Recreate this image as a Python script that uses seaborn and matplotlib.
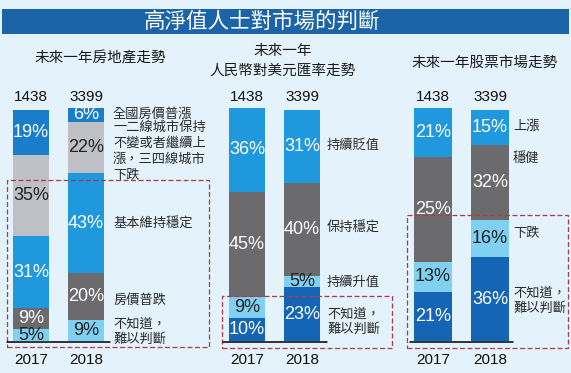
import matplotlib
matplotlib.use("Agg")
import matplotlib.pyplot as plt
from matplotlib.patches import Rectangle
from matplotlib.lines import Line2D
import seaborn as sns

sns.set_style("white")
plt.rcParams['font.family'] = ['Noto Sans CJK TC', 'DejaVu Sans']

# data (segments listed bottom -> top)
years = ["2017", "2018"]
counts = ["1438", "3399"]

house_cats = ["不知道，\n難以判斷", "房價普跌", "基本維持穩定",
              "一二線城市保持\n不變或者繼續上\n漲，三四線城市\n下跌", "全國房價普漲"]
house_2017 = [5, 9, 31, 35, 19]
house_2018 = [9, 20, 43, 22, 6]

rmb_cats = ["不知道，\n難以判斷", "持續升值", "保持穩定", "持續貶值"]
rmb_2017 = [10, 9, 45, 36]
rmb_2018 = [23, 5, 40, 31]

stock_cats = ["不知道，\n難以判斷", "下跌", "穩健", "上漲"]
stock_2017 = [21, 13, 45, 21]   # grey block drawn at ~45% but printed as 25%
stock_2018 = [36, 16, 32, 15]
printed_fix = {("stock", 0, 2): "25%"}

# colours
bg = "#e3f2fb"
mid_blue = "#1a7dcc"
bright_blue = "#1f98de"
dark_blue = "#1565b6"
light_blue = "#80d0f2"
dark_grey = "#6b6b6d"
light_grey = "#bfc0c5"
dark_segs = {mid_blue, bright_blue, dark_blue, dark_grey}

W, H = 571, 373
fig = plt.figure(figsize=(W / 100, H / 100), dpi=100)
fig.patch.set_facecolor(bg)


def fx(x):
    return x / W


def fy(y):
    return 1 - y / H


# title bar
fig.patches.append(Rectangle((fx(2), fy(34)), fx(567), 25 / H, transform=fig.transFigure,
                             facecolor="#1c64a8", edgecolor="none", zorder=0))
fig.text(fx(262), fy(21.5), "高淨值人士對市場的判斷", color="white", fontsize=15.5,
         ha="center", va="center")

panels = [
    dict(key="house", cats=house_cats, vals=[house_2017, house_2018],
         colors=[light_blue, dark_grey, bright_blue, light_grey, mid_blue],
         centers=(31, 86), title="未來一年房地產走勢", title_xy=(100, 58),
         lab_x=113, lab_y=[332, 300, 223, 151, 114], base=(7, 110)),
    dict(key="rmb", cats=rmb_cats, vals=[rmb_2017, rmb_2018],
         colors=[dark_blue, light_blue, dark_grey, bright_blue],
         centers=(247, 302), title="未來一年\n人民幣對美元匯率走勢", title_xy=(283, 60.5),
         lab_x=327, lab_y=[322, 282, 227, 145], base=(223, 327)),
    dict(key="stock", cats=stock_cats, vals=[stock_2017, stock_2018],
         colors=[dark_blue, light_blue, dark_grey, bright_blue],
         centers=(433, 490), title="未來一年股票市場走勢", title_xy=(485, 63),
         lab_x=513, lab_y=[301, 234, 158, 126], base=(410, 513)),
]

top_px, base_px = 108, 341

for p in panels:
    c0, c1 = p["centers"]
    s = c1 - c0
    left = c0 - s / 2
    ax = fig.add_axes([fx(left), fy(base_px), (2 * s) / W, (base_px - top_px) / H])
    ax.patch.set_alpha(0)

    n = len(p["cats"])
    cum = [[sum(v[:i + 1]) for i in range(n)] for v in p["vals"]]
    # draw from the tallest cumulative layer downwards
    for i in reversed(range(n)):
        sns.barplot(x=years, y=[cum[0][i], cum[1][i]], color=p["colors"][i],
                    width=0.65, saturation=1, linewidth=0, ax=ax)
    ax.set_xlim(-0.5, 1.5)
    ax.set_ylim(0, 100)
    ax.axis("off")

    for j in range(2):
        for i in range(n):
            v = p["vals"][j][i]
            mid = cum[j][i] - v / 2
            txt = printed_fix.get((p["key"], j, i), f"{v}%")
            col = "white" if p["colors"][i] in dark_segs else "#222222"
            ax.text(j, mid, txt, ha="center", va="center", color=col,
                    fontsize=13, family="Liberation Sans", clip_on=False)
        ax.text(j, 100 + 11 * 100 / 233, counts[j], ha="center", va="center",
                fontsize=11, family="Liberation Sans", color="#111111", clip_on=False)
        ax.text(j, -19 * 100 / 233, years[j], ha="center", va="center",
                fontsize=11, family="Liberation Sans", color="#111111", clip_on=False)

    for cat, ly in zip(p["cats"], p["lab_y"]):
        ls = 1.3 if cat.count("\n") > 1 else 1.25
        fig.text(fx(p["lab_x"]), fy(ly), cat, ha="left", va="center",
                 fontsize=9.5, color="#2a2a2a", linespacing=ls)

    tx, ty = p["title_xy"]
    fig.text(fx(tx), fy(ty), p["title"], ha="center", va="center",
             fontsize=10.5, color="#1a1a1a", linespacing=1.5)

    b0, b1 = p["base"]
    fig.add_artist(Line2D([fx(b0), fx(b1)], [fy(341.5), fy(341.5)],
                          transform=fig.transFigure, color="black", lw=1.1))

# dashed highlight boxes
for x0, y0, x1, y1 in [(7, 180, 209, 347), (222, 296, 392, 348), (407, 215, 568, 348)]:
    fig.patches.append(Rectangle((fx(x0), fy(y1)), (x1 - x0) / W, (y1 - y0) / H,
                                 transform=fig.transFigure, fill=False,
                                 edgecolor="#b23a48", lw=0.9, linestyle=(0, (4, 2))))

fig.savefig("out.png", dpi=100, facecolor=bg)
